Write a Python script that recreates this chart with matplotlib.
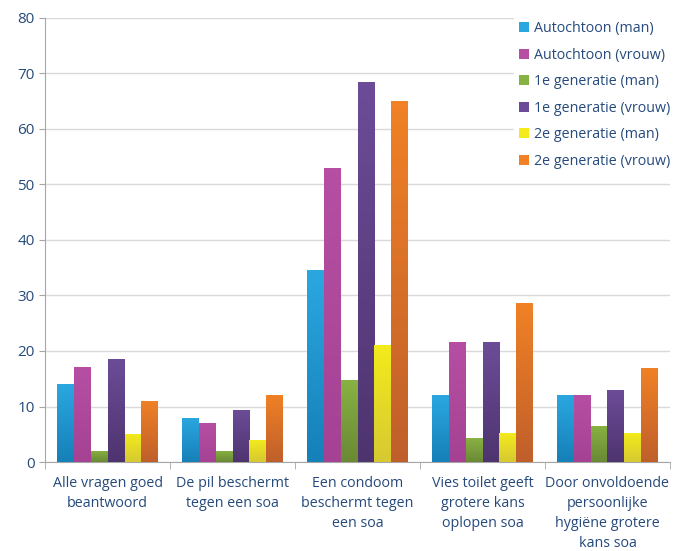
import matplotlib.pyplot as plt
import numpy as np
from matplotlib.colors import LinearSegmentedColormap

categories = ["Alle vragen goed\nbeantwoord",
              "De pil beschermt\ntegen een soa",
              "Een condoom\nbeschermt tegen\neen soa",
              "Vies toilet geeft\ngrotere kans\noplopen soa",
              "Door onvoldoende\npersoonlijke\nhygiëne grotere\nkans soa"]
series_names = ["Autochtoon (man)", "Autochtoon (vrouw)", "1e generatie (man)",
                "1e generatie (vrouw)", "2e generatie (man)", "2e generatie (vrouw)"]
autochtoon_man = [14, 8, 34.5, 12, 12.1]
autochtoon_vrouw = [17.2, 7, 53, 21.6, 12.1]
gen1_man = [2, 2, 14.8, 4.3, 6.5]
gen1_vrouw = [18.6, 9.4, 68.5, 21.6, 13]
gen2_man = [5.1, 4, 21, 5.2, 5.2]
gen2_vrouw = [11, 12.1, 65, 28.6, 17]
values = [autochtoon_man, autochtoon_vrouw, gen1_man, gen1_vrouw, gen2_man, gen2_vrouw]
# (top, bottom) colours of the gradient
colors = [("#2ba7e0", "#1680b8"), ("#b64fa3", "#a54294"), ("#88b243", "#6a8935"),
          ("#6c4c98", "#4e346f"), ("#f3eb1c", "#d6c932"), ("#f08125", "#bf5f2b")]

text_color = "#264a7c"
plt.rcParams['font.family'] = ['Open Sans', 'DejaVu Sans']

fig = plt.figure(figsize=(6.85, 5.51), dpi=100)
ax = fig.add_axes([0.066, 0.1615, 0.912, 0.806])

x = np.arange(len(categories))
w = 0.135
grad = np.linspace(1, 0, 64).reshape(-1, 1)
for i, (vals, (top, bot), name) in enumerate(zip(values, colors, series_names)):
    bars = ax.bar(x + (i - 2.5) * w, vals, width=w, color=top, label=name, zorder=3)
    cmap = LinearSegmentedColormap.from_list("g%d" % i, [bot, top])
    for b in bars:
        x0, y0 = b.get_x(), b.get_y()
        im = ax.imshow(grad, cmap=cmap, aspect='auto', zorder=4,
                       extent=[x0, x0 + b.get_width(), y0, y0 + b.get_height()],
                       origin='upper', vmin=0, vmax=1)
        im.set_clip_path(b)

ax.set_xlim(-0.5, len(categories) - 0.5)
ax.set_ylim(0, 80)
ax.set_yticks(range(0, 81, 10))
ax.yaxis.grid(True, color="#d9d9d9", linewidth=1, zorder=0)
ax.set_axisbelow(True)

ax.set_xticks(x)
ax.set_xticklabels(categories, color=text_color, fontsize=10.3, linespacing=1.45)
ax.set_xticks(np.arange(-0.5, len(categories)), minor=True)
ax.tick_params(axis='x', which='major', length=0, pad=10)
ax.tick_params(axis='x', which='minor', length=5, color="#a6a6a6", direction='out')
ax.tick_params(axis='y', labelcolor=text_color, labelsize=11, length=4, color="#a6a6a6")

for s in ['top', 'right']:
    ax.spines[s].set_visible(False)
ax.spines['left'].set_color("#a6a6a6")
ax.spines['bottom'].set_color("#a6a6a6")

leg = ax.legend(loc='upper left', bbox_to_anchor=(0.75, 1.005), frameon=True,
                framealpha=1, edgecolor='white', fontsize=10.3,
                handlelength=0.7, handleheight=0.7, handletextpad=0.3,
                labelspacing=0.8, borderaxespad=0)
for t in leg.get_texts():
    t.set_color(text_color)

fig.savefig("out.png", dpi=100)
